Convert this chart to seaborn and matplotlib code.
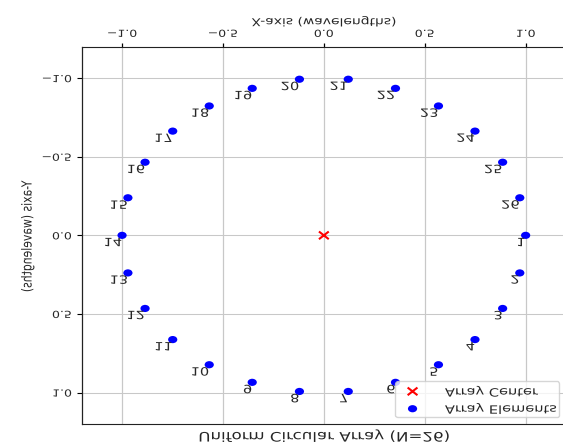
import matplotlib
matplotlib.use("Agg")
import matplotlib.pyplot as plt
import seaborn as sns
import pandas as pd
from matplotlib.patheffects import AbstractPathEffect
from matplotlib.transforms import Affine2D
from matplotlib.path import Path

# ---- data (image is shown mirrored top-to-bottom) ----
element_ids = list(range(1, 27))
element_x = [1.000, 0.971, 0.886, 0.749, 0.568, 0.355, 0.121, -0.121, -0.355, -0.568,
             -0.749, -0.886, -0.971, -1.000, -0.971, -0.886, -0.749, -0.568, -0.355, -0.121,
             0.121, 0.355, 0.568, 0.749, 0.886, 0.971]
element_y = [0.000, 0.239, 0.465, 0.663, 0.823, 0.935, 0.993, 0.993, 0.935, 0.823,
             0.663, 0.465, 0.239, 0.000, -0.239, -0.465, -0.663, -0.823, -0.935, -0.993,
             -0.993, -0.935, -0.823, -0.663, -0.465, -0.239]
center_x = [0.0]
center_y = [0.0]
tick_values = [-1.0, -0.5, 0.0, 0.5, 1.0]
title_text = "Uniform Circular Array (N=26)"
xlabel_text = "X-axis (wavelengths)"
ylabel_text = "Y-axis (wavelengths)"
legend_labels = ["Array Center", "Array Elements"]

SQ = 0.78  # vertical squash of the reference picture


class VMirror(AbstractPathEffect):
    """Mirror (and squash) the drawn glyphs top-to-bottom about their centre."""
    def draw_path(self, renderer, gc, tpath, affine, rgbFace=None):
        ext = tpath.get_extents(affine)
        cy = 0.5 * (ext.y0 + ext.y1)
        flip = Affine2D().translate(0, -cy).scale(1, -SQ).translate(0, cy)
        renderer.draw_path(gc, tpath, affine + flip, rgbFace)


MIR = [VMirror()]

# squashed marker shapes
ellipse = Path.unit_circle().transformed(Affine2D().scale(1.0, SQ))
cross = Path([(-1, -SQ), (1, SQ), (-1, SQ), (1, -SQ)],
             [Path.MOVETO, Path.LINETO, Path.MOVETO, Path.LINETO])

sns.set_style("ticks")
plt.rcParams["font.family"] = ["DejaVu Sans"]

fig = plt.figure(figsize=(5.63, 4.46), dpi=100)
ax = fig.add_axes([81.7 / 563, (446 - 424) / 446, (566 - 81.7) / 563, (424 - 46.7) / 446])

df_el = pd.DataFrame({"x": element_x, "y": element_y})
df_c = pd.DataFrame({"x": center_x, "y": center_y})

sns.scatterplot(data=df_el, x="x", y="y", ax=ax, color="blue", s=44, marker=ellipse,
                edgecolor="none", linewidth=0, label=legend_labels[1], zorder=3)
sns.scatterplot(data=df_c, x="x", y="y", ax=ax, color="red", marker=cross, s=50,
                edgecolor="red", facecolor="none", linewidth=1.5,
                label=legend_labels[0], zorder=3)

for n, x, y in zip(element_ids, element_x, element_y):
    t = ax.text(x, y, str(n), ha="right", va="top", fontsize=10.5)
    t.set_path_effects(MIR)

ax.set_xlim(-1.2, 1.2)
ax.set_ylim(1.2, -1.2)
ax.set_xticks(tick_values)
ax.set_yticks(tick_values)
ax.xaxis.tick_top()
ax.xaxis.set_label_position("top")
ax.xaxis.grid(True, color="#c8c8c8", linewidth=0.9)
ax.yaxis.grid(True, color="#c8c8c8", linewidth=0.75)
ax.set_axisbelow(True)
for name, s in ax.spines.items():
    s.set_color("#222222")
    s.set_linewidth(0.9 if name in ("left", "right") else 0.8)
ax.tick_params(axis="x", labelsize=9, length=2.7, width=0.9, pad=1.5, color="black")
ax.tick_params(axis="y", labelsize=9, length=3.5, width=0.8, pad=3.5, color="black")

ax.set_xlabel(xlabel_text, fontsize=10, labelpad=2)
ax.set_ylabel(ylabel_text, fontsize=10, labelpad=5)
ax.xaxis.label.set_path_effects(MIR)
ax.yaxis.label.set_path_effects(MIR)
for lab in ax.get_xticklabels() + ax.get_yticklabels():
    lab.set_path_effects(MIR)

tt = ax.text(0.5, -0.006, title_text, transform=ax.transAxes, ha="center",
             va="top", fontsize=12)
tt.set_path_effects(MIR)

handles, labels = ax.get_legend_handles_labels()
order = [labels.index(l) for l in legend_labels]
leg = ax.legend([handles[i] for i in order], [labels[i] for i in order],
                loc="lower right", fontsize=10.5, framealpha=0.8,
                borderpad=0.13, labelspacing=0.16, handlelength=2.16,
                handletextpad=1.14, borderaxespad=0.45)
for t in leg.get_texts():
    t.set_path_effects(MIR)

fig.savefig("out.png", dpi=100)
